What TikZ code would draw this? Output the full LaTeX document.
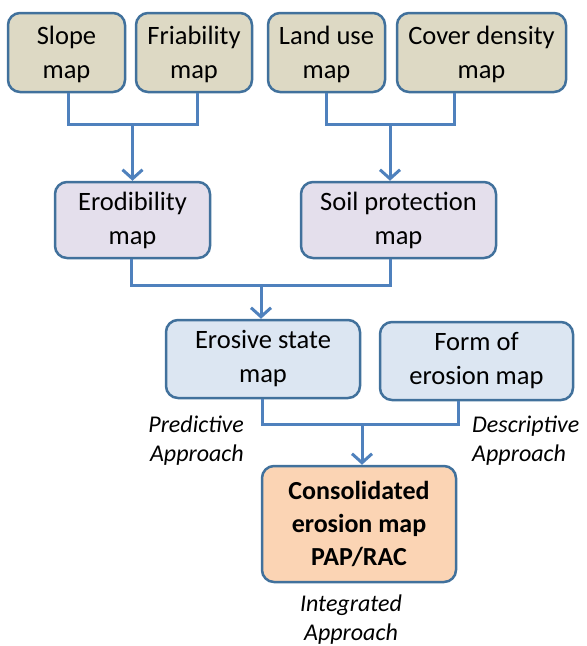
\documentclass[tikz,border=0pt]{standalone}
\usepackage{fontspec}
\setmainfont{Carlito}
\usetikzlibrary{arrows.meta}
\definecolor{boxline}{HTML}{41719C}
\definecolor{conncol}{HTML}{4F81BD}
\definecolor{tanfill}{HTML}{DDD9C4}
\definecolor{lavfill}{HTML}{E4DFEC}
\definecolor{bluefill}{HTML}{DCE6F2}
\definecolor{peachfill}{HTML}{FBD4B4}
\tikzset{
  mapbox/.style={draw=boxline, line width=2.5pt, rounded corners=12pt, align=center,
    inner sep=0pt, font=\fontsize{26.5}{34}\selectfont},
  toprow/.style={mapbox, fill=tanfill, minimum height=79pt, text depth=-5pt},
  midrow/.style={mapbox, fill=lavfill, minimum height=76pt},
  lowrow/.style={mapbox, fill=bluefill, minimum height=78pt},
  finalbox/.style={mapbox, fill=peachfill, minimum height=116pt, font=\fontsize{26}{33}\selectfont\bfseries},
  conn/.style={draw=conncol, line width=3pt},
  arr/.style={conn, -{Straight Barb[length=9pt,width=20pt]}},
  approach/.style={font=\fontsize{24}{29}\selectfont\itshape, inner sep=0pt}
}
\begin{document}
\begin{tikzpicture}[x=1pt,y=1pt]
\useasboundingbox (0,0) rectangle (587,-646);
% top row
\node[toprow, minimum width=117pt] (slope) at (66.5,-52.5) {Slope\\map};
\node[toprow, minimum width=116pt] (fri) at (194,-52.5) {Friability\\map};
\node[toprow, minimum width=117pt] (land) at (326.5,-52.5) {Land use\\map};
\node[toprow, minimum width=169pt] (cov) at (481.5,-52.5) {Cover density\\map};
% middle row
\node[midrow, minimum width=155pt] (ero) at (132.5,-220) {Erodibility\\map};
\node[midrow, minimum width=195pt] (soil) at (398.5,-220) {Soil protection\\map};
% lower row
\node[lowrow, minimum width=194pt] (est) at (263,-359) {Erosive state\\map};
\node[lowrow, minimum width=193pt] (form) at (476.5,-361) {Form of\\erosion map};
% final
\node[finalbox, minimum width=194pt] (cons) at (359,-524) {Consolidated\\erosion map\\PAP/RAC};
% labels
\node[approach, align=right, anchor=east] (pred) at (244,-441) {Predictive\\Approach};
\node[approach, align=left, anchor=west] (desc) at (472,-441) {Descriptive\\Approach};
\node[approach, align=center] (integ) at (351,-620) {Integrated\\Approach};
% connectors
\coordinate (j1) at (132.5,-124);
\draw[conn] ([xshift=1.5pt]slope.south) |- (j1) -| ([xshift=3pt]fri.south);
\draw[arr] (j1) -- (j1 |- ero.north);
\coordinate (j2) at (390,-124);
\draw[conn] (land.south) |- (j2) -| ([xshift=-27.5pt]cov.south);
\draw[arr] (j2) -- (j2 |- soil.north);
\coordinate (j3) at (261,-285);
\draw[conn] ([xshift=-1.5pt]ero.south) |- (j3) -| ([xshift=-8.5pt]soil.south);
\draw[arr] (j3) -- (j3 |- est.north);
\coordinate (j4) at (362,-424);
\draw[conn] ([xshift=-1pt]est.south) |- (j4) -| ([xshift=-18.5pt]form.south);
\draw[arr] (j4) -- (j4 |- cons.north);
\end{tikzpicture}
\end{document}
